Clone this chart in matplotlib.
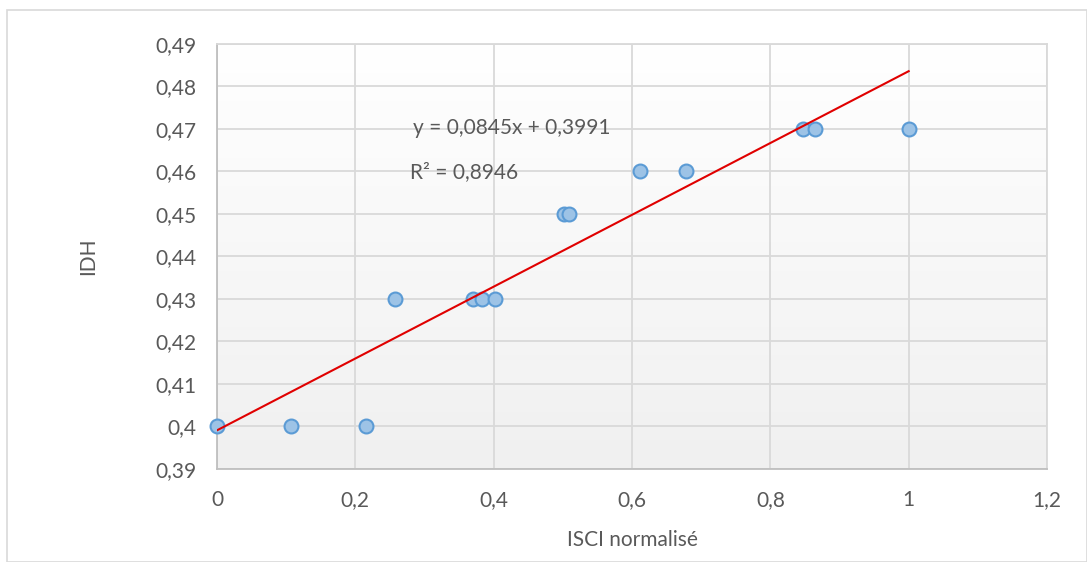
import matplotlib.pyplot as plt
import matplotlib.patches as patches
import numpy as np

# data
isci = [0.0, 0.107, 0.215, 0.257, 0.370, 0.383, 0.402, 0.502, 0.509,
        0.612, 0.678, 0.847, 0.865, 1.0]
idh = [0.40, 0.40, 0.40, 0.43, 0.43, 0.43, 0.43, 0.45, 0.45,
       0.46, 0.46, 0.47, 0.47, 0.47]

slope = 0.0845
intercept = 0.3991
r2 = 0.8946

xticks = [0, 0.2, 0.4, 0.6, 0.8, 1.0, 1.2]
xtick_labels = ['0', '0,2', '0,4', '0,6', '0,8', '1', '1,2']
yticks = [0.39, 0.40, 0.41, 0.42, 0.43, 0.44, 0.45, 0.46, 0.47, 0.48, 0.49]
ytick_labels = ['0,39', '0,4', '0,41', '0,42', '0,43', '0,44', '0,45',
                '0,46', '0,47', '0,48', '0,49']

plt.rcParams['font.family'] = ['Lato', 'DejaVu Sans']
txt = '#595959'
fs = 15

fig = plt.figure(figsize=(10.87, 5.62), dpi=100)
ax = fig.add_axes([217/1087, 1-469/562, 830/1087, 425/562])

# chart border
fig.patches.append(patches.Rectangle((7/1087, 0), 1 - 7/1087, 1 - 10/562,
                                     transform=fig.transFigure, fill=False,
                                     ec='#d9d9d9', lw=1.2))

# gradient background of the plot area
grad = np.linspace(1.0, 0.0, 256).reshape(-1, 1)
ax.imshow(grad, cmap=plt.matplotlib.colors.LinearSegmentedColormap.from_list(
    'bg', ['#f0f0f0', '#ffffff']), aspect='auto',
    extent=[0, 1.2, 0.39, 0.49], zorder=0, origin='upper', vmin=0, vmax=1)

ax.set_xlim(0, 1.2)
ax.set_ylim(0.39, 0.49)
ax.set_xticks(xticks)
ax.set_xticklabels(xtick_labels)
ax.set_yticks(yticks)
ax.set_yticklabels(ytick_labels)
ax.grid(True, color='#d9d9d9', lw=1.3, zorder=1)
ax.tick_params(length=0, labelsize=fs, colors=txt, pad=15)
for s in ['top', 'right']:
    ax.spines[s].set_color('#d9d9d9')
    ax.spines[s].set_linewidth(1.3)
for s in ['left', 'bottom']:
    ax.spines[s].set_color('#bfbfbf')
    ax.spines[s].set_linewidth(1.3)

ax.scatter(isci, idh, s=100, c='#9dc3e6', edgecolors='#5b9bd5',
           linewidths=1.5, zorder=3, clip_on=False)

xl = np.array([0, 1.0])
ax.plot(xl, slope*xl + intercept, color='#e00000', lw=1.5, zorder=4)

ax.text(0.426, 0.4702, 'y = 0,0845x + 0,3991', ha='center', va='center',
        fontsize=fs, color=txt, zorder=5)
ax.text(0.357, 0.4599, 'R² = 0,8946', ha='center', va='center',
        fontsize=fs, color=txt, zorder=5)

fig.text(88/1087, 1-256/562, 'IDH', rotation=90, ha='center', va='center',
         fontsize=fs, color=txt)
fig.text(632/1087, 1-540/562, 'ISCI normalisé', ha='center', va='center',
         fontsize=fs, color=txt)

fig.savefig('out.png', dpi=100)
